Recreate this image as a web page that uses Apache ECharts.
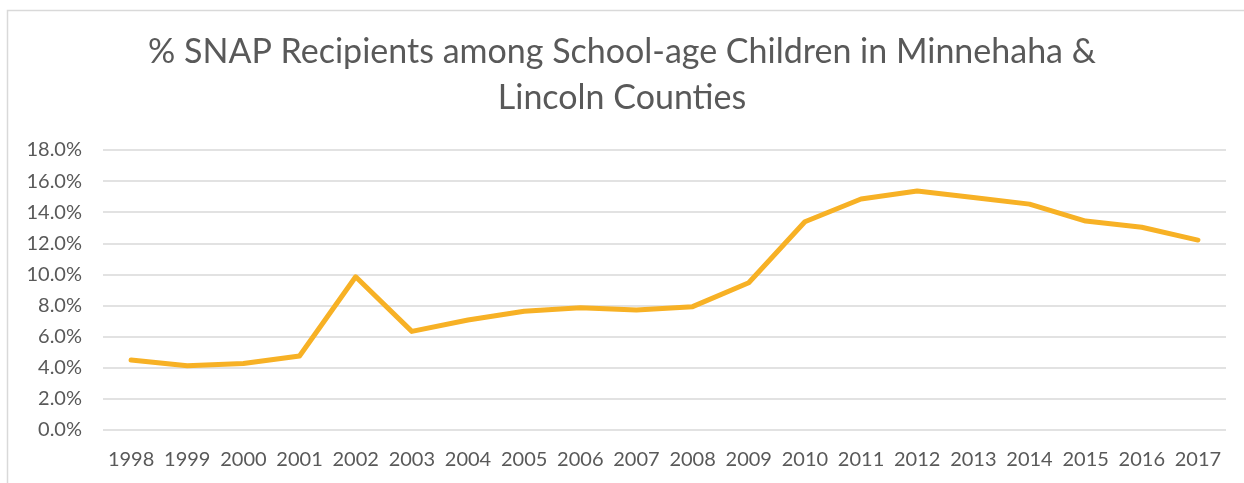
<!DOCTYPE html>
<html>
<head>
<meta charset="utf-8">
<script src="https://cdn.jsdelivr.net/npm/echarts@6/dist/echarts.min.js"></script>
<style>
  html, body { margin: 0; padding: 0; background: #fff; }
  #main { width: 1244px; height: 483px; }
</style>
</head>
<body>
<div id="main"></div>
<script>
// categories (years) and % SNAP recipients
var years = ['1998','1999','2000','2001','2002','2003','2004','2005','2006','2007',
             '2008','2009','2010','2011','2012','2013','2014','2015','2016','2017'];
var snapPct = [4.5, 4.13, 4.28, 4.76, 9.85, 6.34, 7.07, 7.63, 7.86, 7.71,
               7.93, 9.47, 13.39, 14.85, 15.36, 14.95, 14.52, 13.43, 13.03, 12.21];
var yTicks = { min: 0, max: 18, interval: 2 };

var chart = echarts.init(document.getElementById('main'));
var textColor = '#595959';
var fontFam = 'Lato, "Open Sans", sans-serif';

var option = {
  animation: false,
  backgroundColor: '#fff',
  // frame around the chart area
  graphic: [{
    type: 'rect',
    shape: { x: 7.5, y: 10.5, width: 1300, height: 500 },
    style: { fill: 'none', stroke: '#d9d9d9', lineWidth: 1.5 },
    silent: true
  }],
  title: {
    text: '% SNAP Recipients among School-age Children in Minnehaha &\nLincoln Counties',
    left: 'center',
    top: 24,
    padding: [5, 5, 5, 23],   // nudges the centred title a little right
    textStyle: {
      color: textColor,
      fontFamily: fontFam,
      fontWeight: 'normal',
      fontSize: 34,
      lineHeight: 46
    }
  },
  grid: { left: 103, right: 18, top: 150, bottom: 53 },
  xAxis: {
    type: 'category',
    data: years,
    boundaryGap: true,
    axisLine: { show: false },
    axisTick: { show: false },
    axisLabel: {
      color: textColor, fontFamily: fontFam, fontSize: 20, margin: 20, interval: 0
    }
  },
  yAxis: {
    type: 'value',
    min: yTicks.min,
    max: yTicks.max,
    interval: yTicks.interval,
    axisLine: { show: false },
    axisTick: { show: false },
    splitLine: { lineStyle: { color: '#d9d9d9', width: 1.5 } },
    axisLabel: {
      color: textColor, fontFamily: fontFam, fontSize: 20, margin: 21,
      formatter: function (v) { return v.toFixed(1) + '%'; }
    }
  },
  series: [{
    type: 'line',
    data: snapPct,
    symbol: 'none',
    lineStyle: { color: '#f7b125', width: 5, cap: 'round', join: 'round' }
  }]
};

chart.setOption(option);
</script>
</body>
</html>
